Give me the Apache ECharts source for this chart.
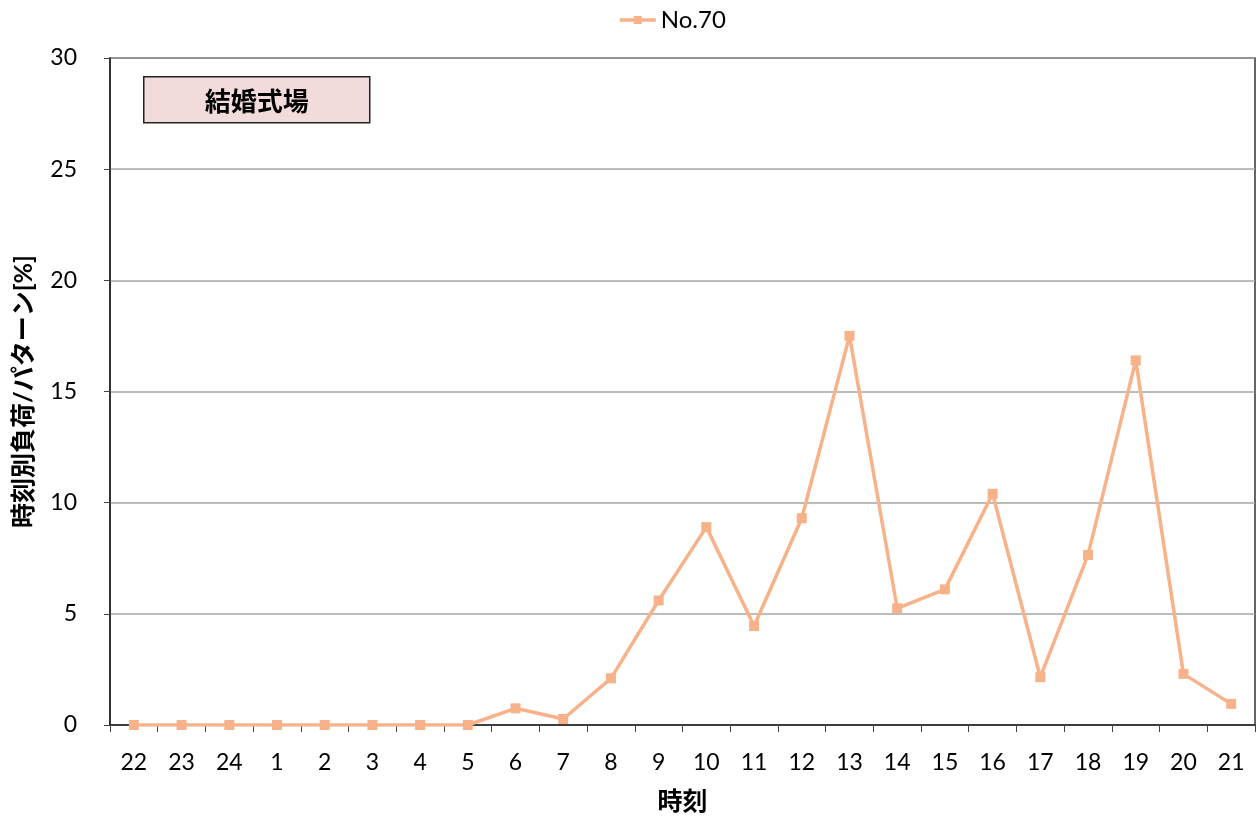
<!DOCTYPE html>
<html>
<head>
<meta charset="utf-8">
<script src="https://cdn.jsdelivr.net/npm/echarts@6/dist/echarts.min.js"></script>
<style>
html,body{margin:0;padding:0;background:#fff;}
#main{width:1259px;height:819px;}
</style>
</head>
<body>
<div id="main"></div>
<script>
// 時刻
var hours = ['22','23','24','1','2','3','4','5','6','7','8','9','10','11','12','13','14','15','16','17','18','19','20','21'];
// No.70 時刻別負荷パターン[%]
var no70 = [0,0,0,0,0,0,0,0,0.75,0.27,2.1,5.6,8.9,4.45,9.3,17.5,5.25,6.1,10.4,2.15,7.65,16.4,2.3,0.95];
var yTicks = [0,5,10,15,20,25,30];

var myChart = echarts.init(document.getElementById('main'));
var font = 'Lato, "Noto Sans CJK JP", sans-serif';
var option = {
    animation: false,
    textStyle: {fontFamily: font},
    legend: {
        top: 3,
        left: 613,
        itemWidth: 36,
        itemHeight: 10,
        itemGap: 5,
        lineStyle: {width: 3.5},
        textStyle: {fontSize: 24, color: '#000', fontFamily: font},
        data: ['No.70']
    },
    grid: {
        left: 110,
        right: 4,
        top: 58,
        bottom: 94,
        show: true,
        borderColor: '#333',
        borderWidth: 1.5
    },
    xAxis: {
        type: 'category',
        data: hours,
        boundaryGap: true,
        name: '時刻',
        nameLocation: 'middle',
        nameGap: 64,
        nameTextStyle: {fontSize: 25, fontWeight: 'bold', color: '#000', fontFamily: font},
        axisLine: {lineStyle: {color: '#222', width: 1.5}},
        axisTick: {show: true, inside: false, length: 7, alignWithLabel: false, lineStyle: {color: '#444'}},
        axisLabel: {fontSize: 23, color: '#000', margin: 26, interval: 0}
    },
    yAxis: {
        type: 'value',
        min: 0,
        max: 30,
        interval: 5,
        name: '時刻別負荷/パターン[%]',
        nameLocation: 'middle',
        nameRotate: 90,
        nameGap: 74,
        nameTextStyle: {fontSize: 25, fontWeight: 'bold', color: '#000', fontFamily: font},
        axisLine: {show: true, lineStyle: {color: '#222', width: 1.5}},
        axisTick: {show: true, length: 6, lineStyle: {color: '#444'}},
        axisLabel: {fontSize: 23, color: '#000', margin: 33,
            formatter: function(v){ return yTicks.indexOf(v) >= 0 ? String(v) : ''; }},
        splitLine: {lineStyle: {color: '#a6a6a6', width: 1.5}}
    },
    graphic: [{
        type: 'group',
        left: 143,
        top: 76,
        children: [{
            type: 'rect',
            shape: {x: 0, y: 0, width: 226, height: 46},
            style: {fill: '#f2dcdb', stroke: '#222', lineWidth: 1.5}
        }, {
            type: 'text',
            x: 113,
            y: 24,
            style: {text: '結婚式場', fontSize: 26, fontWeight: 'bold', fill: '#000',
                fontFamily: '"Noto Sans CJK JP", sans-serif', align: 'center', verticalAlign: 'middle'}
        }]
    }],
    series: [{
        name: 'No.70',
        type: 'line',
        data: no70,
        symbol: 'rect',
        symbolSize: 10,
        lineStyle: {color: '#f8b28a', width: 3.5},
        itemStyle: {color: '#f8b28a'}
    }]
};
myChart.setOption(option);
</script>
</body>
</html>
